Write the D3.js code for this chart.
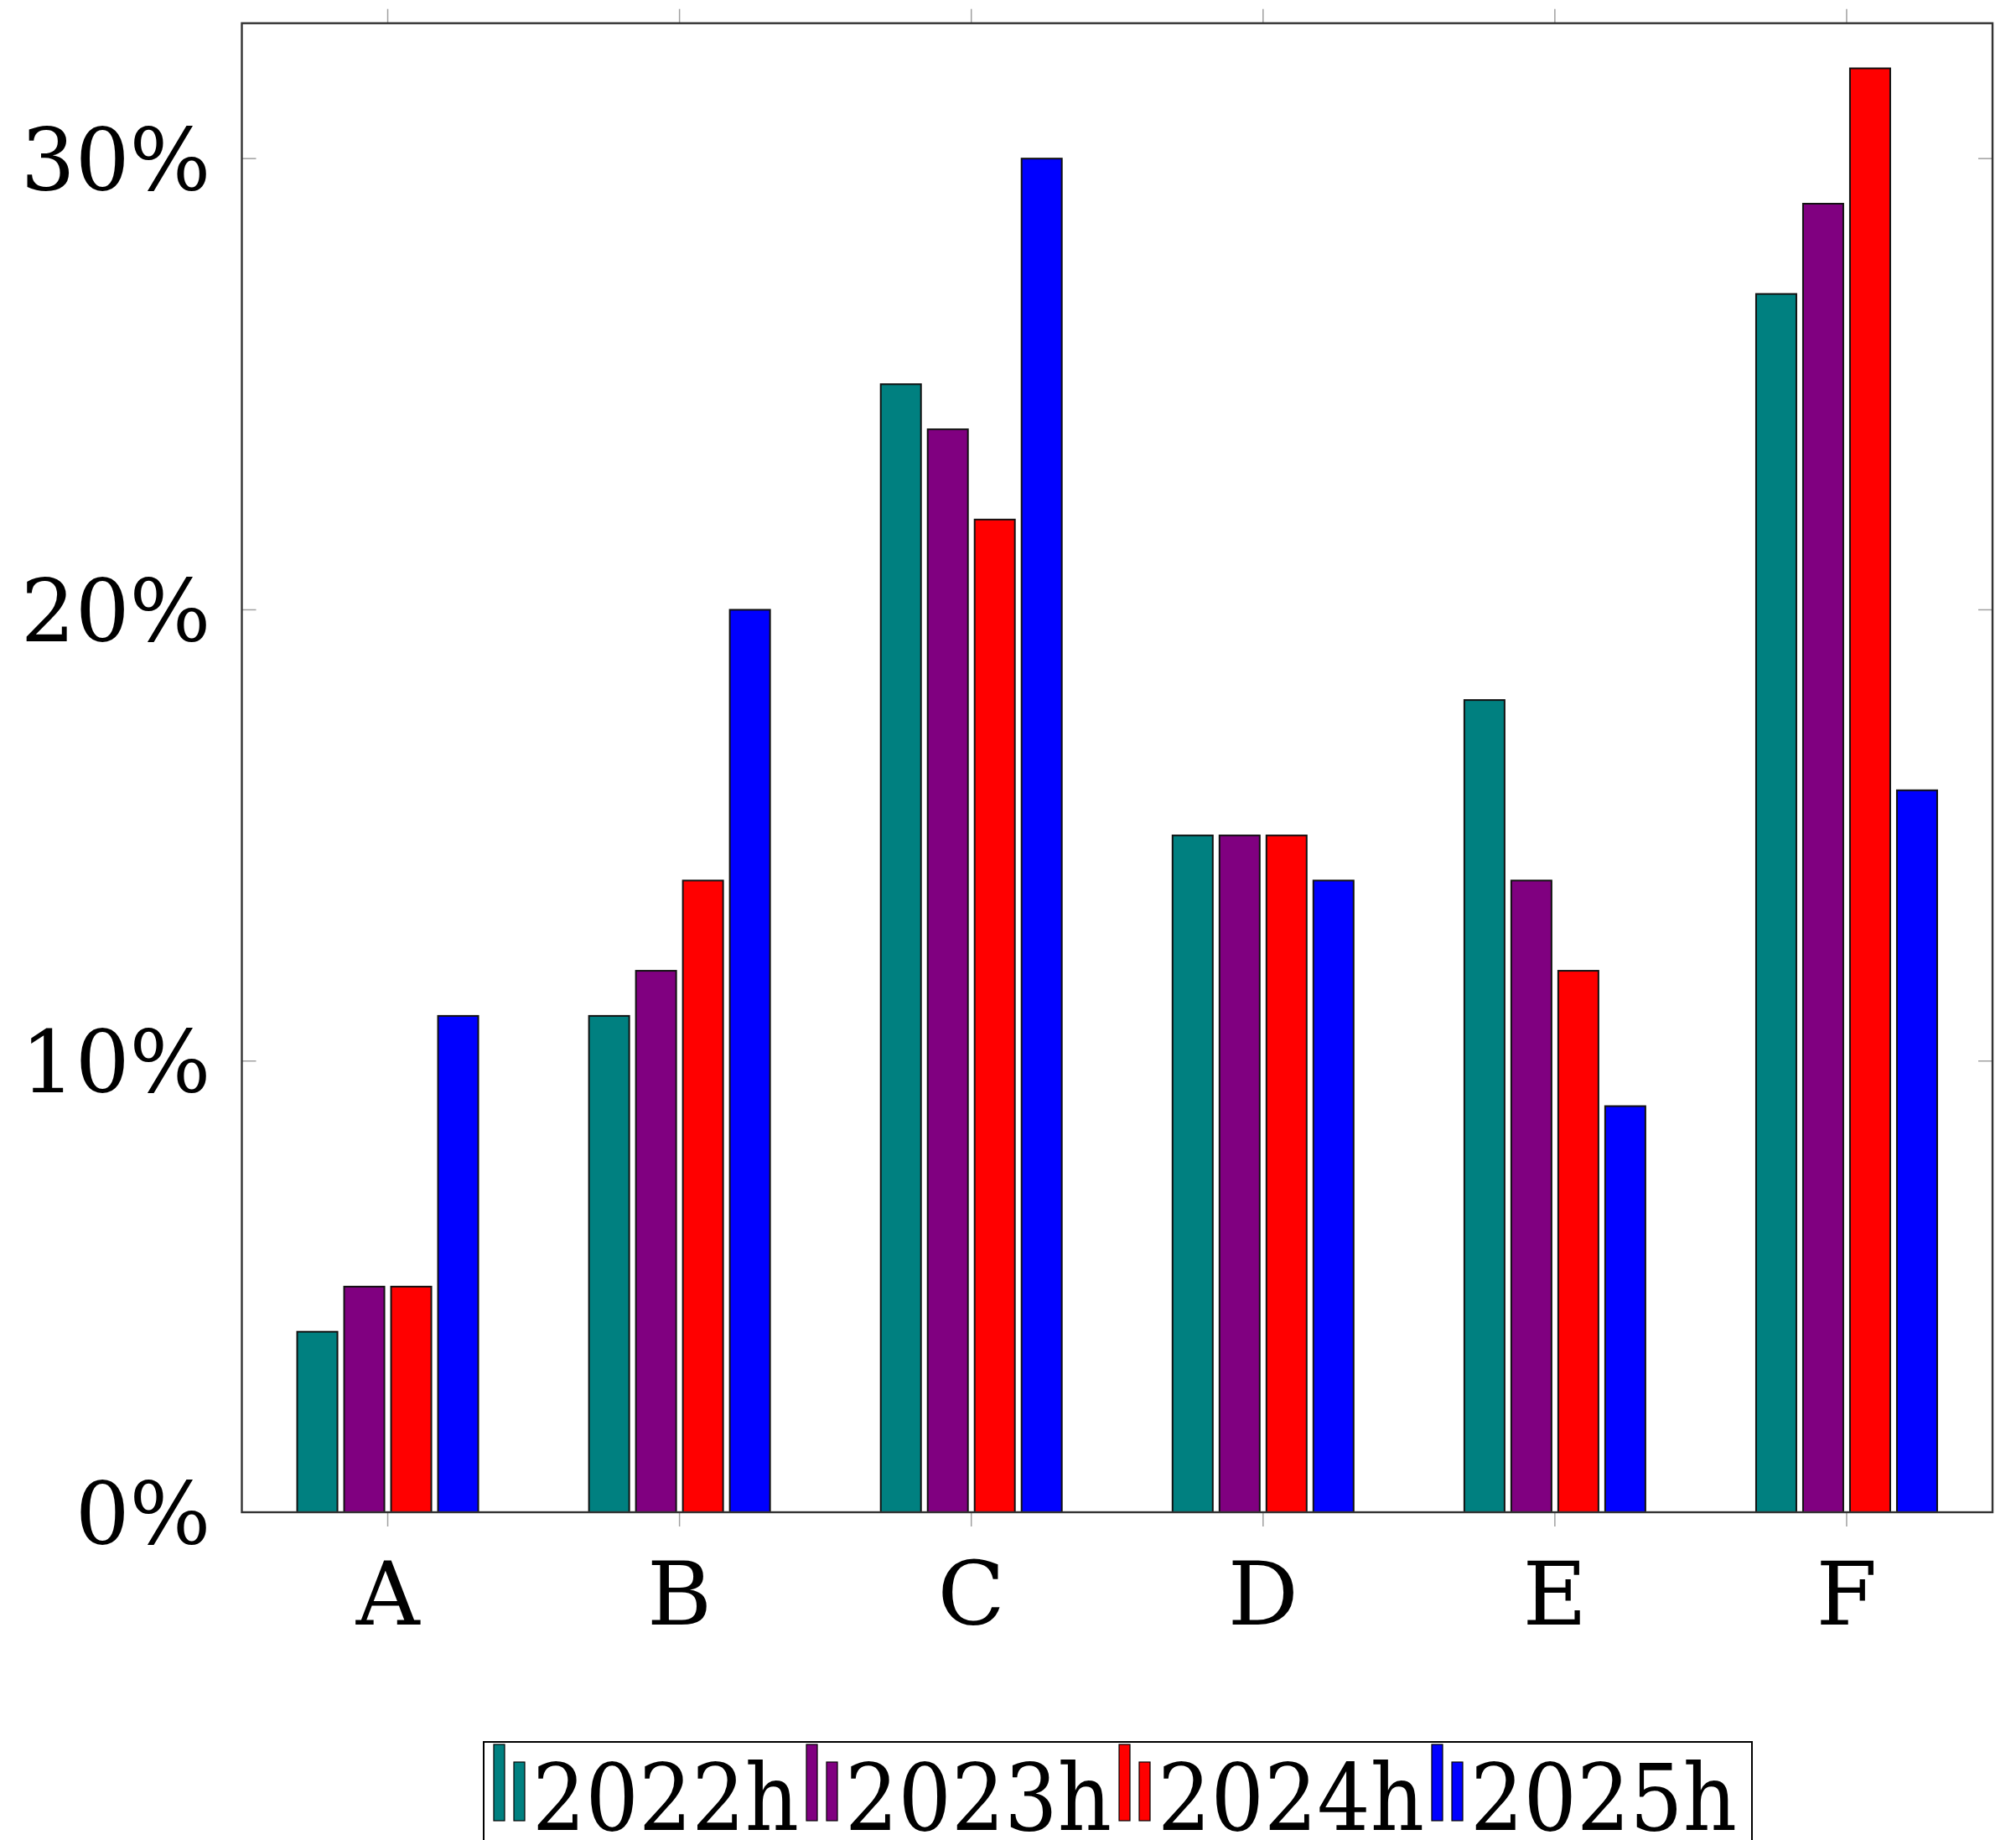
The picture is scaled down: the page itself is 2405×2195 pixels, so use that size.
<!DOCTYPE html>
<html>
<head>
<meta charset="utf-8">
<script src="https://cdn.jsdelivr.net/npm/d3@7"></script>
<style>
  html, body { margin: 0; padding: 0; background: #fff; }
  svg { display: block; }
  text { font-family: "DejaVu Serif", serif; fill: #000; }
</style>
</head>
<body>
<svg id="chart" width="2405" height="2195"></svg>
<script>
const categories = ["A", "B", "C", "D", "E", "F"];
const seriesNames = ["2022h", "2023h", "2024h", "2025h"];
const seriesColors = ["#008080", "#800080", "#ff0000", "#0000ff"];
const values2022 = [4, 11, 25, 15, 18, 27];
const values2023 = [5, 12, 24, 15, 14, 29];
const values2024 = [5, 14, 22, 15, 12, 32];
const values2025 = [11, 20, 30, 14, 9, 16];
const yTicks = [0, 10, 20, 30];
const yMax = 33;

const seriesValues = [values2022, values2023, values2024, values2025];

const svg = d3.select("#chart");
const W = 2405, H = 2195;
svg.append("rect").attr("width", W).attr("height", H).attr("fill", "#fff");

const m = { left: 288.5, right: 2377, top: 27.7, bottom: 1804 };

const x0 = d3.scaleBand().domain(categories).range([m.left, m.right]).paddingInner(0).paddingOuter(0);
const p = 8 / 56;
const x1 = d3.scaleBand().domain(seriesNames).range([-112, 112]).paddingInner(p).paddingOuter(p / 2);
const y = d3.scaleLinear().domain([0, yMax]).range([m.bottom, m.top]);

// bars
const groups = svg.append("g").selectAll("g")
  .data(categories)
  .join("g")
  .attr("transform", c => `translate(${x0(c) + x0.bandwidth() / 2},0)`);

groups.selectAll("rect")
  .data((c, i) => seriesNames.map((s, k) => ({ s, k, v: seriesValues[k][i] })))
  .join("rect")
  .attr("x", d => x1(d.s))
  .attr("width", x1.bandwidth())
  .attr("y", d => y(d.v))
  .attr("height", d => y(0) - y(d.v))
  .attr("fill", d => seriesColors[d.k])
  .attr("stroke", "#111")
  .attr("stroke-width", 2);

// ticks
const tickColor = "#a0a0a0";
const tickLen = 17;
svg.append("g").selectAll("line").data(yTicks).join("line")
  .attr("x1", m.left).attr("x2", m.left + tickLen)
  .attr("y1", d => y(d)).attr("y2", d => y(d))
  .attr("stroke", tickColor).attr("stroke-width", 1.5);
svg.append("g").selectAll("line").data(yTicks).join("line")
  .attr("x1", m.right - tickLen).attr("x2", m.right)
  .attr("y1", d => y(d)).attr("y2", d => y(d))
  .attr("stroke", tickColor).attr("stroke-width", 1.5);
svg.append("g").selectAll("line").data(categories).join("line")
  .attr("x1", d => x0(d) + x0.bandwidth() / 2).attr("x2", d => x0(d) + x0.bandwidth() / 2)
  .attr("y1", m.bottom).attr("y2", m.bottom + tickLen)
  .attr("stroke", tickColor).attr("stroke-width", 1.5);
svg.append("g").selectAll("line").data(categories).join("line")
  .attr("x1", d => x0(d) + x0.bandwidth() / 2).attr("x2", d => x0(d) + x0.bandwidth() / 2)
  .attr("y1", m.top - tickLen).attr("y2", m.top)
  .attr("stroke", tickColor).attr("stroke-width", 1.5);

// frame
svg.append("rect")
  .attr("x", m.left).attr("y", m.top)
  .attr("width", m.right - m.left).attr("height", m.bottom - m.top)
  .attr("fill", "none").attr("stroke", "#333").attr("stroke-width", 2.4);

// y labels
svg.append("g").selectAll("text").data(yTicks).join("text")
  .attr("x", m.left - 37)
  .attr("y", d => y(d))
  .attr("dy", "0.37em")
  .attr("text-anchor", "end")
  .attr("font-size", 102)
  .text(d => d + "%");

// x labels
svg.append("g").selectAll("text").data(categories).join("text")
  .attr("x", d => x0(d) + x0.bandwidth() / 2)
  .attr("y", 1938)
  .attr("text-anchor", "middle")
  .attr("font-size", 105)
  .text(d => d);

// legend
const lg = svg.append("g");
lg.append("rect")
  .attr("x", 577).attr("y", 2078)
  .attr("width", 2090 - 577).attr("height", 200)
  .attr("fill", "#fff").attr("stroke", "#000").attr("stroke-width", 2);
const step = 373;
seriesNames.forEach((s, k) => {
  const bx = 589 + k * step;
  lg.append("rect").attr("x", bx).attr("y", 2081).attr("width", 13).attr("height", 2172 - 2081)
    .attr("fill", seriesColors[k]).attr("stroke", "#000").attr("stroke-width", 1.2);
  lg.append("rect").attr("x", bx + 24).attr("y", 2102).attr("width", 13).attr("height", 2172 - 2102)
    .attr("fill", seriesColors[k]).attr("stroke", "#000").attr("stroke-width", 1.2);
  lg.append("text")
    .attr("x", bx + 46).attr("y", 2183)
    .attr("font-size", 111)
    .attr("textLength", 318)
    .attr("lengthAdjust", "spacingAndGlyphs")
    .text(s);
});
</script>
</body>
</html>
